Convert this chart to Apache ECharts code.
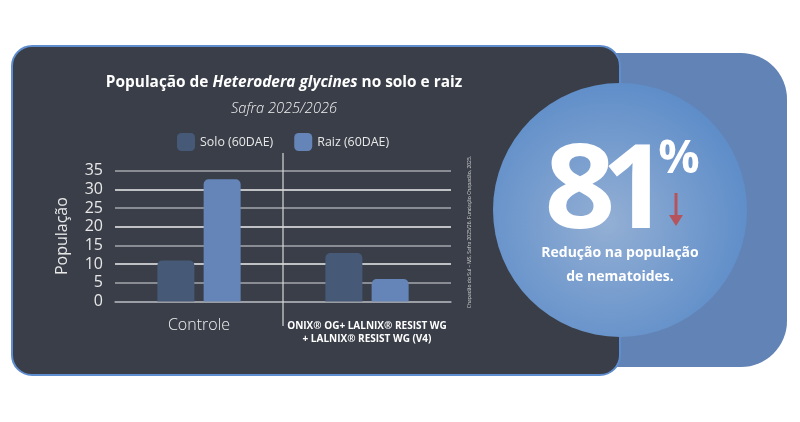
<!DOCTYPE html>
<html lang="pt-BR">
<head>
  <meta charset="UTF-8">
  <title>População de Heterodera glycines</title>
  <style>
    html,body{margin:0;padding:0;background:#fff;}
    #main{width:800px;height:422px;}
  </style>
</head>
<body>
  <div id="main"></div>
  <script src="https://cdn.jsdelivr.net/npm/echarts@6/dist/echarts.min.js"></script>
  <script>
    const categories=['Controle','ONIX® OG+ LALNIX® RESIST WG\n+ LALNIX® RESIST WG (V4)'];
    const soloValues=[11,13];
    const raizValues=[32.7,6];
    const seriesNames=['Solo (60DAE)','Raiz (60DAE)'];
    const gridColors=['#9a9ea6','#a4a7ad','#eeeeee','#a4a7ad','#eeeeee','#a4a7ad','#eeeeee','#a4a7ad'];

    const font='"Open Sans", sans-serif';
    const chart=echarts.init(document.querySelector('#main'));

    const decor=[
      {type:'rect',id:'backPanel',z:-10,shape:{x:560,y:53,width:227,height:314,r:[0,46,46,0]},style:{fill:'#6283b5'}},
      {type:'rect',id:'darkPanel',z:-9,shape:{x:12,y:46,width:608,height:329,r:20},style:{fill:'#393e48',stroke:'#5f8ed0',lineWidth:2}},
      {type:'circle',id:'bubble',z:-8,shape:{cx:620,cy:210,r:127},style:{
        fill:new echarts.graphic.RadialGradient(0.45,0.55,0.6,[{offset:0,color:'#93afd4'},{offset:1,color:'#5b8bc8'}])
      }},
      {type:'text',id:'big8',z:10,x:580,y:195,scaleX:1.06,style:{x:0,y:0,text:'8',fill:'#fff',font:'bold 117px '+font,align:'center',verticalAlign:'middle'}},
      {type:'text',id:'big1',z:10,x:635,y:195,style:{x:0,y:0,text:'1',fill:'#fff',font:'bold 117px '+font,align:'center',verticalAlign:'middle'}},
      {type:'text',id:'pct',z:10,style:{x:679,y:160,text:'%',fill:'#fff',font:'bold 46px '+font,align:'center',verticalAlign:'middle'}},
      {type:'line',id:'arrowStem',z:10,shape:{x1:676,y1:193,x2:676,y2:217},style:{stroke:'#b5545c',lineWidth:3}},
      {type:'polygon',id:'arrowHead',z:10,shape:{points:[[669,215],[683,215],[676,226]]},style:{fill:'#b5545c'}},
      {type:'text',id:'caption',z:10,style:{x:620,y:265,text:'Redução na população\nde nematoides.',fill:'#fff',font:'bold 14px '+font,align:'center',verticalAlign:'middle',lineHeight:24}},
      {type:'text',id:'source',z:10,rotation:Math.PI/2,x:470,y:232,style:{x:0,y:0,text:'Chapadão do Sul – MS, Safra 2025/26. Fundação Chapadão, 2025.',fill:'#d8d8d8',font:'5px '+font,align:'center',verticalAlign:'middle'}}
    ];

    const option={
      animation:false,
      title:{
        left:279,top:70,textAlign:'center',
        text:'{b|População de }{bi|Heterodera glycines}{b| no solo e raiz}',
        textStyle:{rich:{
          b:{fontFamily:font,fontWeight:'bold',fontSize:15.4,color:'#fff'},
          bi:{fontFamily:font,fontWeight:'bold',fontStyle:'italic',fontSize:15.4,color:'#fff'}
        }},
        subtext:'Safra 2025/2026',
        itemGap:11,
        subtextStyle:{fontFamily:font,fontStyle:'italic',fontWeight:300,fontSize:14.6,color:'#f0f0f0'}
      },
      legend:{
        left:172,top:128,itemWidth:18,itemHeight:18,itemGap:21,icon:'roundRect',
        textStyle:{fontFamily:font,fontSize:12.4,color:'#e8e8e8'},
        data:seriesNames
      },
      grid:{left:115,right:349,top:170.7,bottom:120.5},
      xAxis:{
        type:'category',data:categories,
        axisLine:{show:true,lineStyle:{color:'#a4a7ad',width:1.5}},
        axisTick:{show:false},
        axisLabel:{
          margin:16,interval:0,
          formatter:(v,i)=> i===0 ? '{n|'+v+'}' : '{s|'+v.split('\n').join('}\n{s|')+'}',
          rich:{
            n:{fontFamily:font,fontSize:16,fontWeight:300,color:'#f0f0f0'},
            s:{fontFamily:font,fontSize:10,fontWeight:'bold',color:'#fff',lineHeight:13.5,padding:[3,0,0,0]}
          }
        }
      },
      yAxis:{
        type:'value',min:0,max:35,interval:5,
        name:'População',nameLocation:'middle',nameGap:45,
        nameTextStyle:{fontFamily:font,fontSize:16,color:'#e8e8e8'},
        axisLine:{show:false},axisTick:{show:false},
        axisLabel:{margin:12,fontFamily:font,fontSize:16,color:'#e8e8e8'},
        splitLine:{lineStyle:{color:gridColors,width:1.5}}
      },
      series:[
        {name:seriesNames[0],type:'bar',data:soloValues,barWidth:37,barGap:'25%',
          itemStyle:{color:'#465a78',borderRadius:[5,5,0,0]}},
        {name:seriesNames[1],type:'bar',data:raizValues,barWidth:37,
          itemStyle:{color:'#6585b8',borderRadius:[5,5,0,0]}}
      ],
      graphic:decor
    };
    chart.setOption(option);

    // separator between the two categories
    const x0=chart.convertToPixel({xAxisIndex:0},0);
    const x1=chart.convertToPixel({xAxisIndex:0},1);
    const sep=(x0+x1)/2;
    chart.setOption({graphic:[
      {type:'line',id:'sep',z:5,shape:{x1:sep,y1:153,x2:sep,y2:326},style:{stroke:'#d8d8d8',lineWidth:1.2}}
    ]});
  </script>
</body>
</html>
